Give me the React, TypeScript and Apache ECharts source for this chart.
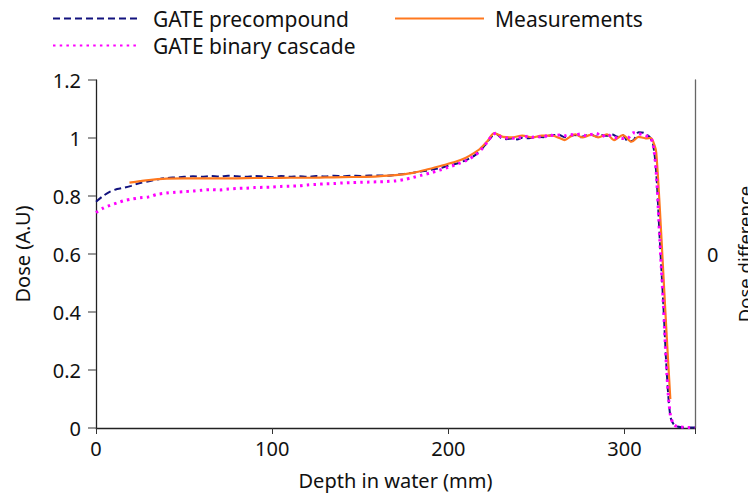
import React, { useEffect, useRef } from "react";
import * as echarts from "echarts";

const xTicks = [0, 100, 200, 300];
const yTicks = [0, 0.2, 0.4, 0.6, 0.8, 1, 1.2];

const simDepth = [
  0, 4, 8, 12, 16, 20,
  25, 30, 35, 40, 45, 50,
  55, 60, 65, 70, 75, 80,
  85, 90, 95, 100, 105, 110,
  115, 120, 125, 130, 135, 140,
  145, 150, 155, 160, 165, 170,
  175, 180, 185, 190, 195, 200,
  205, 210, 215, 219, 222, 225,
  227, 230, 233, 236, 239, 242,
  245, 248, 251, 254, 257, 260,
  263, 266, 269, 272, 275, 278,
  281, 284, 287, 290, 293, 296,
  299, 302, 305, 308, 311, 314,
  316, 318, 320, 322, 324, 326,
  328, 330, 333, 336, 340,
];

const precompoundDose = [
  0.78, 0.8, 0.815, 0.824, 0.829, 0.835,
  0.845, 0.851, 0.857, 0.862, 0.864, 0.866,
  0.868, 0.866, 0.869, 0.867, 0.87, 0.868,
  0.866, 0.869, 0.867, 0.865, 0.869, 0.866,
  0.868, 0.866, 0.869, 0.867, 0.87, 0.868,
  0.87, 0.869, 0.871, 0.871, 0.87, 0.873,
  0.876, 0.88, 0.885, 0.89, 0.896, 0.904,
  0.912, 0.924, 0.94, 0.962, 0.985, 1.008,
  1.015, 1.0, 0.996, 0.998, 0.995, 1.001,
  0.999, 1.002, 1.004, 1.003, 1.008, 1.01,
  1.01, 1.003, 1.007, 1.01, 1.003, 1.008,
  1.012, 1.005, 1.01, 1.008, 1.012, 1.004,
  1.01, 0.988, 0.992, 1.02, 1.018, 1.005,
  0.985, 0.88, 0.65, 0.43, 0.19, 0.04,
  0.012, 0.005, 0.002, 0.002, 0.002,
];

const binaryDose = [
  0.743, 0.758, 0.768, 0.776, 0.784, 0.789,
  0.794, 0.797, 0.806, 0.81, 0.813, 0.815,
  0.817, 0.82, 0.822, 0.821, 0.824, 0.826,
  0.827, 0.829, 0.83, 0.831, 0.833, 0.834,
  0.835, 0.838, 0.84, 0.842, 0.843, 0.845,
  0.846, 0.847, 0.848, 0.849, 0.85, 0.852,
  0.857, 0.864, 0.872, 0.88, 0.889, 0.899,
  0.91, 0.922, 0.94, 0.962, 0.985, 1.01,
  1.016, 1.003, 1.0, 0.998, 1.003, 1.0,
  1.006, 1.003, 1.004, 1.002, 1.012, 1.008,
  1.01, 1.008, 1.012, 1.01, 1.014, 1.008,
  1.012, 1.016, 1.005, 1.013, 1.004, 1.0,
  0.998, 1.0, 1.018, 1.015, 1.01, 1.002,
  0.985, 0.88, 0.65, 0.43, 0.19, 0.045,
  0.012, 0.005, 0.003, 0.002, 0.002,
];

const measDepth = [
  19, 25, 30, 35, 40,
  50, 60, 70, 80, 90,
  100, 110, 120, 130, 140,
  150, 160, 170, 180, 189,
  197, 204, 210, 214, 218,
  222, 226, 229, 231, 236,
  242, 248, 253, 259, 263,
  266, 269, 272, 276, 281,
  285, 290, 294, 299, 304,
  308, 312, 315, 317, 318,
  320, 322, 324, 326,
];

const measDose = [
  0.846, 0.851, 0.855, 0.858, 0.86,
  0.861, 0.861, 0.861, 0.861, 0.862,
  0.862, 0.863, 0.863, 0.864, 0.865,
  0.866, 0.868, 0.872, 0.88, 0.893,
  0.906, 0.918, 0.932, 0.946, 0.963,
  0.988, 1.016, 1.01, 1.004, 1.002,
  1.008, 1.002, 1.008, 1.008, 1.0,
  0.993, 1.004, 1.013, 1.002, 1.011,
  1.002, 1.013, 0.993, 1.01, 0.987,
  1.004, 0.999, 1.0, 0.975, 0.95,
  0.76, 0.535, 0.31, 0.1,
];

const NAME_PRE = "GATE precompound";
const NAME_BIN = "GATE binary cascade";
const NAME_MEAS = "Measurements";

const zip = (xs: number[], ys: number[]) =>
  xs.slice(0, Math.min(xs.length, ys.length)).map((x, i) => [x, ys[i]]);

const FONT = "'Noto Sans', 'Open Sans', sans-serif";

export default function App() {
  const ref = useRef<HTMLDivElement>(null);
  useEffect(() => {
    if (!ref.current) return;
    const chart = echarts.init(ref.current, undefined, { renderer: "svg" });
    const legendText = { fontFamily: FONT, fontSize: 21, color: "#111" };
    const legendCommon = {
      padding: 0,
      itemHeight: 12,
      itemStyle: { opacity: 0 },
    };
    chart.setOption({
      animation: false,
      backgroundColor: "#fff",
      textStyle: { fontFamily: FONT },
      grid: {
        left: 96,
        right: 53,
        top: 80,
        bottom: 67,
        containLabel: false,
        outerBoundsMode: "none",
      },
      legend: [
        {
          ...legendCommon,
          data: [NAME_PRE],
          left: 52,
          top: 8,
          itemWidth: 86,
          textStyle: { ...legendText, padding: [0, 0, 0, 9] },
        },
        {
          ...legendCommon,
          data: [NAME_BIN],
          left: 52,
          top: 35,
          itemWidth: 86,
          textStyle: { ...legendText, padding: [0, 0, 0, 9] },
        },
        {
          ...legendCommon,
          data: [NAME_MEAS],
          left: 394,
          top: 8,
          itemWidth: 89,
          textStyle: { ...legendText, padding: [0, 0, 0, 6] },
        },
      ],
      xAxis: {
        type: "value",
        min: 0,
        max: 340,
        interval: 100,
        name: "Depth in water (mm)",
        nameLocation: "middle",
        nameGap: 42,
        nameTextStyle: { fontFamily: FONT, fontSize: 20, color: "#111" },
        axisLine: { show: true, onZero: false, lineStyle: { color: "#222", width: 1.3 } },
        axisTick: { show: true, length: 6, lineStyle: { color: "#333" } },
        axisLabel: {
          fontFamily: FONT,
          fontSize: 20,
          color: "#111",
          margin: 10,
          formatter: (v: number) => (xTicks.includes(v) ? String(v) : ""),
        },
        splitLine: { show: false },
      },
      yAxis: [
        {
          type: "value",
          min: 0,
          max: 1.2,
          interval: 0.2,
          name: "Dose (A.U)",
          nameLocation: "middle",
          nameGap: 64,
          nameTextStyle: { fontFamily: FONT, fontSize: 20, color: "#111" },
          axisLine: { show: true, lineStyle: { color: "#222", width: 1.3 } },
          axisTick: { show: true, length: 8, lineStyle: { color: "#777", width: 1.5 } },
          axisLabel: {
            fontFamily: FONT,
            fontSize: 20,
            color: "#111",
            margin: 15,
            formatter: (v: number) => {
              const t = yTicks.find((k) => Math.abs(k - v) < 1e-6);
              return t === undefined ? "" : String(t);
            },
          },
          splitLine: { show: false },
        },
        {
          type: "value",
          position: "right",
          min: -1,
          max: 1,
          interval: 1,
          name: "Dose difference",
          nameLocation: "middle",
          nameGap: 40,
          nameTextStyle: { fontFamily: FONT, fontSize: 18.5, color: "#111" },
          axisLine: { show: true, onZero: false, lineStyle: { color: "#666", width: 1.3 } },
          axisTick: { show: false },
          axisLabel: {
            fontFamily: FONT,
            fontSize: 20,
            color: "#111",
            margin: 12,
            formatter: (v: number) => (Math.abs(v) < 1e-9 ? "0" : ""),
          },
          splitLine: { show: false },
        },
      ],
      series: [
        {
          name: NAME_PRE,
          type: "line",
          yAxisIndex: 0,
          data: zip(simDepth, precompoundDose),
          symbol: "none",
          smooth: 0.3,
          lineStyle: { color: "#12127e", width: 2, type: [7, 4] },
          itemStyle: { color: "#12127e" },
          z: 2,
        },
        {
          name: NAME_MEAS,
          type: "line",
          yAxisIndex: 0,
          data: zip(measDepth, measDose),
          symbol: "none",
          smooth: 0.3,
          lineStyle: { color: "#ff781e", width: 2.2 },
          itemStyle: { color: "#ff781e" },
          z: 3,
        },
        {
          name: NAME_BIN,
          type: "line",
          yAxisIndex: 0,
          data: zip(simDepth, binaryDose),
          symbol: "none",
          smooth: 0.3,
          lineStyle: { color: "#ff00ff", width: 3, type: [2.5, 4.2] },
          itemStyle: { color: "#ff00ff" },
          z: 4,
        },
      ],
    });
    return () => chart.dispose();
  }, []);
  return (
    <div
      ref={ref}
      style={{ position: "fixed", left: 0, top: 0, width: 748, height: 495 }}
    />
  );
}
